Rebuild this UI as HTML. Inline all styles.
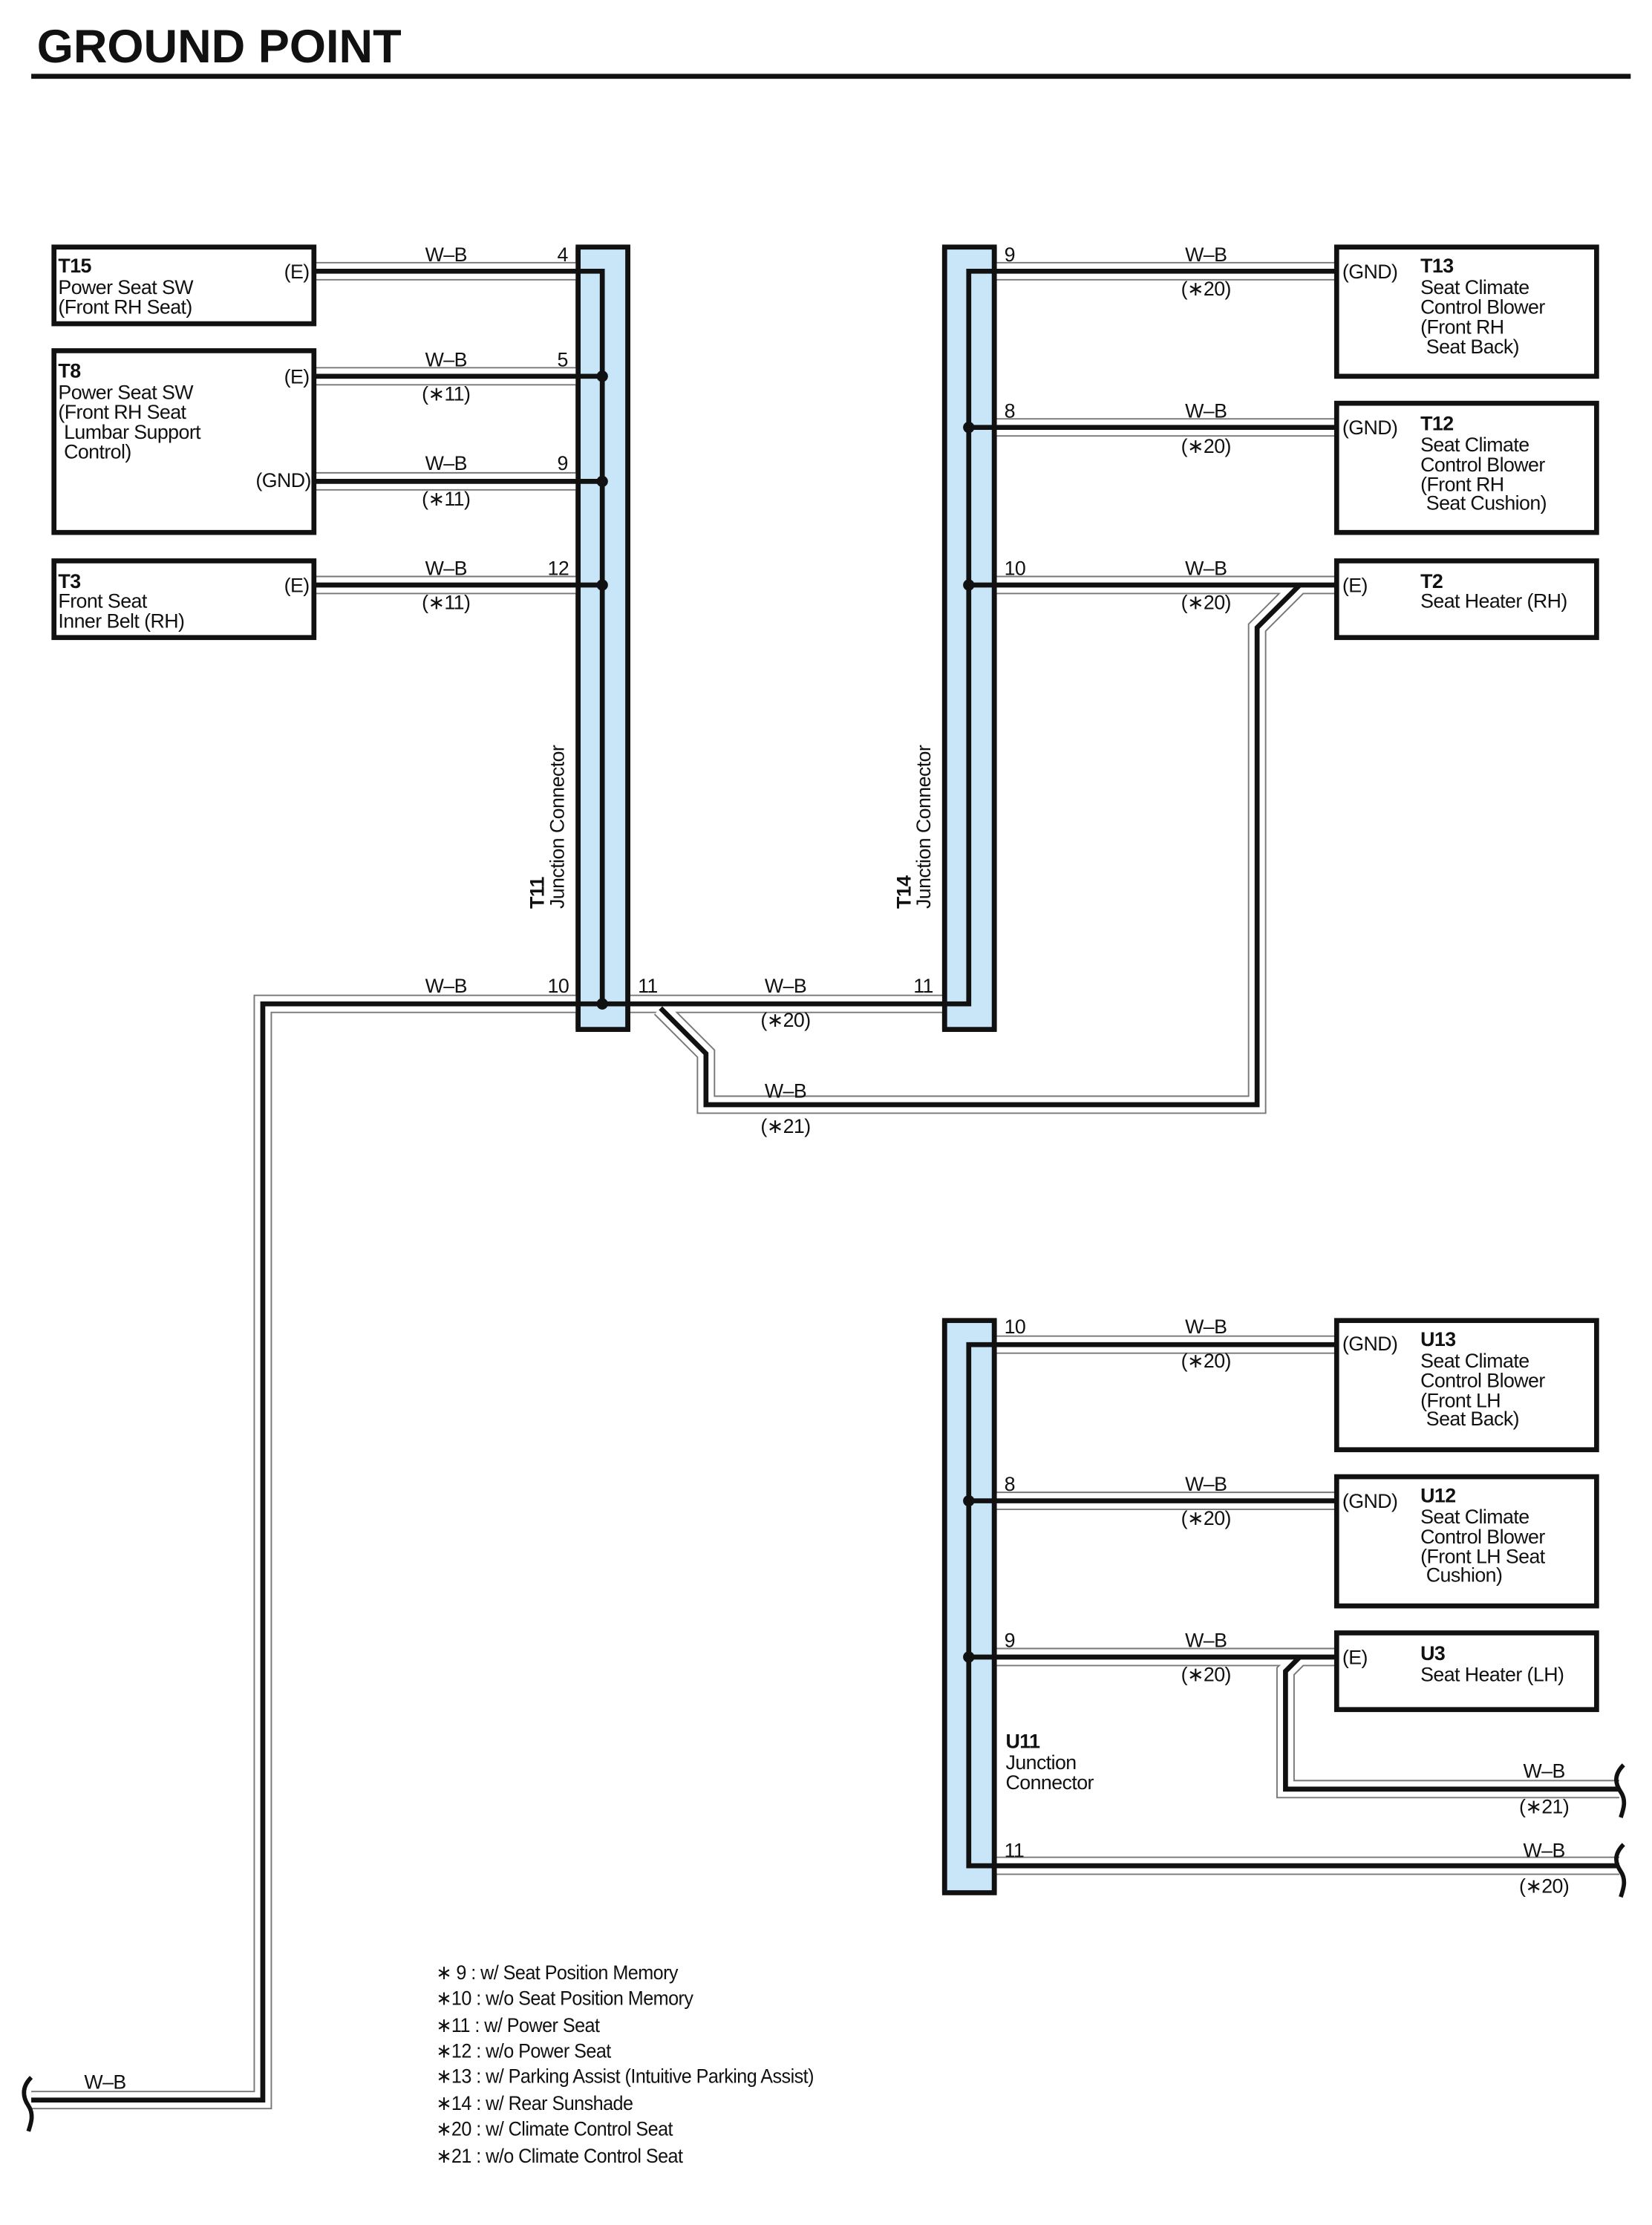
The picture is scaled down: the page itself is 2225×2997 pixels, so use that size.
<!DOCTYPE html>
<html><head><meta charset="utf-8"><style>
html,body{margin:0;padding:0;background:#fff}
svg{display:block}
text{font-family:"Liberation Sans Narrow","Liberation Sans",sans-serif;font-size:14px;fill:#111;letter-spacing:-0.3px}
.b{font-weight:bold}
</style></head><body>
<svg width="2225" height="2997" viewBox="0 0 1163 1567" preserveAspectRatio="none" xmlns="http://www.w3.org/2000/svg">
<text x="26" y="44" class="b" style="font-family:'Liberation Sans',sans-serif;font-size:33px;letter-spacing:0">GROUND POINT</text>
<rect x="22" y="52" width="1126" height="3.5" fill="#111"/>

<g fill="#c8e6f8" stroke="#111" stroke-width="3.5">
<rect x="407" y="174" width="35" height="551"/>
<rect x="665" y="174" width="35" height="551"/>
<rect x="665" y="930" width="35" height="403"/>
</g>

<g fill="none" stroke-linejoin="miter">
<g stroke="#777" stroke-width="13">
<path d="M222 191H406M222 265H406M222 339H406M222 412H406"/>
<path d="M701 191H940M701 301H940M701 412H940"/>
<path d="M443 707H664"/>
<path d="M406 707H185V1479H22"/>
<path d="M915 412L885 442V778H497V742L465 710"/>
<path d="M701 947H940M701 1057H940M701 1167H940"/>
<path d="M915 1167L905 1177V1260H1140"/>
<path d="M701 1314H1140"/>
</g>
<g stroke="#fff" stroke-width="11">
<path d="M222 191H406M222 265H406M222 339H406M222 412H406"/>
<path d="M701 191H940M701 301H940M701 412H940"/>
<path d="M443 707H664"/>
<path d="M406 707H185V1479H22"/>
<path d="M915 412L885 442V778H497V742L465 710"/>
<path d="M701 947H940M701 1057H940M701 1167H940"/>
<path d="M915 1167L905 1177V1260H1140"/>
<path d="M701 1314H1140"/>
</g>
<g stroke="#111" stroke-width="3.5">
<path d="M222 191H424V707M222 265H424M222 339H424M222 412H424"/>
<path d="M940 191H682V707H664M940 301H682M940 412H682"/>
<path d="M406 707H664"/>
<path d="M406 707H185V1479H22"/>
<path d="M915 412L885 442V778H497V742L465 710"/>
<path d="M940 947H682V1314H1140M940 1057H682M940 1167H682"/>
<path d="M915 1167L905 1177V1260H1140"/>
</g>
<g stroke="#111" stroke-width="3.5">
<path d="M407 174V725M442 174V725M665 174V725M700 174V725M665 930V1333M700 930V1333"/>
</g>
<g stroke="#111" stroke-width="3">
<path d="M1143 1243C1136 1250 1137 1256 1141 1262C1145 1268 1143 1274 1141 1280"/>
<path d="M1143 1299C1136 1306 1137 1312 1141 1318C1145 1324 1143 1330 1141 1336"/>
<path d="M22 1463C15 1470 16 1477 20 1483C24 1489 22 1495 20 1501"/>
</g>
</g>
<g fill="#111">
<circle cx="424" cy="265" r="4"/><circle cx="424" cy="339" r="4"/><circle cx="424" cy="412" r="4"/><circle cx="424" cy="707" r="4"/>
<circle cx="682" cy="301" r="4"/><circle cx="682" cy="412" r="4"/>
<circle cx="682" cy="1057" r="4"/><circle cx="682" cy="1167" r="4"/>
</g>

<g fill="#fff" stroke="#111" stroke-width="3.5">
<rect x="38" y="174" width="183" height="54"/>
<rect x="38" y="247" width="183" height="128"/>
<rect x="38" y="395" width="183" height="54"/>
<rect x="941" y="174" width="183" height="91"/>
<rect x="941" y="284" width="183" height="91"/>
<rect x="941" y="395" width="183" height="54"/>
<rect x="941" y="930" width="183" height="91"/>
<rect x="941" y="1040" width="183" height="91"/>
<rect x="941" y="1150" width="183" height="54"/>
</g>

<text x="41" y="192" class="b">T15</text>
<text x="41" y="207">Power Seat SW</text>
<text x="41" y="221">(Front RH Seat)</text>
<text x="200" y="196">(E)</text>
<text x="41" y="266" class="b">T8</text>
<text x="41" y="281">Power Seat SW</text>
<text x="41" y="295">(Front RH Seat</text>
<text x="45" y="309">Lumbar Support</text>
<text x="45" y="323">Control)</text>
<text x="200" y="270">(E)</text>
<text x="180" y="343">(GND)</text>
<text x="41" y="414" class="b">T3</text>
<text x="41" y="428">Front Seat</text>
<text x="41" y="442">Inner Belt (RH)</text>
<text x="200" y="417">(E)</text>

<text x="945" y="196">(GND)</text>
<text x="1000" y="192" class="b">T13</text>
<text x="1000" y="207">Seat Climate</text>
<text x="1000" y="221">Control Blower</text>
<text x="1000" y="235">(Front RH</text>
<text x="1004" y="249">Seat Back)</text>
<text x="945" y="306">(GND)</text>
<text x="1000" y="303" class="b">T12</text>
<text x="1000" y="318">Seat Climate</text>
<text x="1000" y="332">Control Blower</text>
<text x="1000" y="346">(Front RH</text>
<text x="1004" y="359">Seat Cushion)</text>
<text x="945" y="417">(E)</text>
<text x="1000" y="414" class="b">T2</text>
<text x="1000" y="428">Seat Heater (RH)</text>

<text x="945" y="951">(GND)</text>
<text x="1000" y="948" class="b">U13</text>
<text x="1000" y="963">Seat Climate</text>
<text x="1000" y="977">Control Blower</text>
<text x="1000" y="991">(Front LH</text>
<text x="1004" y="1004">Seat Back)</text>
<text x="945" y="1062">(GND)</text>
<text x="1000" y="1058" class="b">U12</text>
<text x="1000" y="1073">Seat Climate</text>
<text x="1000" y="1087">Control Blower</text>
<text x="1000" y="1101">(Front LH Seat</text>
<text x="1004" y="1114">Cushion)</text>
<text x="945" y="1172">(E)</text>
<text x="1000" y="1169" class="b">U3</text>
<text x="1000" y="1184">Seat Heater (LH)</text>

<g text-anchor="middle">
<text x="314" y="184">W–B</text><text x="396" y="184">4</text>
<text x="314" y="258">W–B</text><text x="396" y="258">5</text><text x="314" y="282">(∗11)</text>
<text x="314" y="331">W–B</text><text x="396" y="331">9</text><text x="314" y="356">(∗11)</text>
<text x="314" y="405">W–B</text><text x="393" y="405">12</text><text x="314" y="429">(∗11)</text>
<text x="849" y="184">W–B</text><text x="849" y="208">(∗20)</text>
<text x="849" y="294">W–B</text><text x="849" y="319">(∗20)</text>
<text x="849" y="405">W–B</text><text x="849" y="429">(∗20)</text>
<text x="314" y="699">W–B</text><text x="393" y="699">10</text>
<text x="456" y="699">11</text><text x="553" y="699">W–B</text><text x="650" y="699">11</text>
<text x="553" y="723">(∗20)</text>
<text x="553" y="773">W–B</text><text x="553" y="798">(∗21)</text>
<text x="74" y="1471">W–B</text>
<text x="849" y="939">W–B</text><text x="849" y="963">(∗20)</text>
<text x="849" y="1050">W–B</text><text x="849" y="1074">(∗20)</text>
<text x="849" y="1160">W–B</text><text x="849" y="1184">(∗20)</text>
<text x="1087" y="1252">W–B</text><text x="1087" y="1277">(∗21)</text>
<text x="1087" y="1308">W–B</text><text x="1087" y="1333">(∗20)</text>
</g>
<text x="707" y="184">9</text><text x="707" y="294">8</text><text x="707" y="405">10</text>
<text x="707" y="939">10</text><text x="707" y="1050">8</text><text x="707" y="1160">9</text><text x="707" y="1308">11</text>

<g transform="translate(383,640) rotate(-90)"><text x="0" y="0" class="b">T11</text><text x="0" y="14">Junction Connector</text></g>
<g transform="translate(641,640) rotate(-90)"><text x="0" y="0" class="b">T14</text><text x="0" y="14">Junction Connector</text></g>
<text x="708" y="1231" class="b">U11</text>
<text x="708" y="1246">Junction</text>
<text x="708" y="1260">Connector</text>

<g transform="translate(307,0) scale(0.94,1) translate(-307,0)" style="font-size:13.5px">
<text x="307" y="1394">∗ 9 : w/ Seat Position Memory</text>
<text x="307" y="1412">∗10 : w/o Seat Position Memory</text>
<text x="307" y="1431">∗11 : w/ Power Seat</text>
<text x="307" y="1449">∗12 : w/o Power Seat</text>
<text x="307" y="1467">∗13 : w/ Parking Assist (Intuitive Parking Assist)</text>
<text x="307" y="1486">∗14 : w/ Rear Sunshade</text>
<text x="307" y="1504">∗20 : w/ Climate Control Seat</text>
<text x="307" y="1523">∗21 : w/o Climate Control Seat</text>
</g>
</svg>
</body></html>
